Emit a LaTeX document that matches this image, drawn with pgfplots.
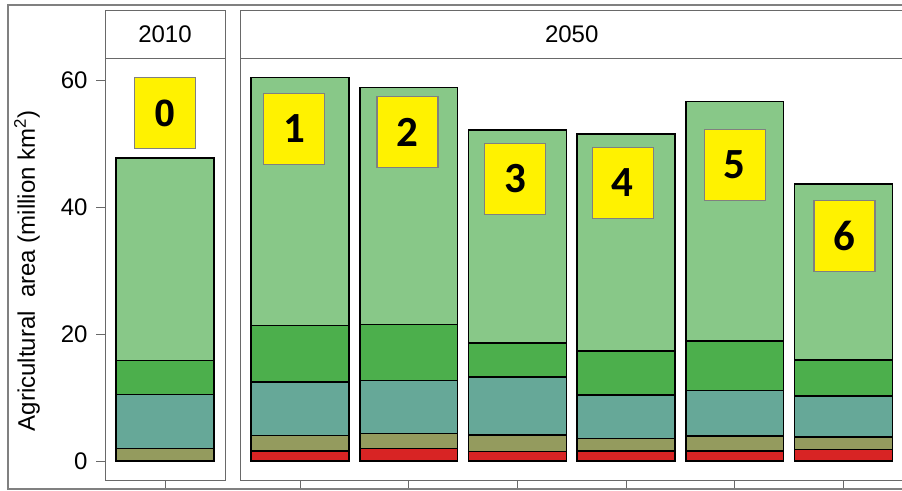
\documentclass[border=0pt]{standalone}
\usepackage{fontspec}
\setmainfont{Liberation Sans}
\newfontfamily\numfont{Carlito}
\usepackage{pgfplots}
\usepackage{pgfplotstable}
\pgfplotsset{compat=1.18}

\definecolor{cLight}{RGB}{136,200,136}
\definecolor{cGreen}{RGB}{76,175,76}
\definecolor{cTeal}{RGB}{102,168,152}
\definecolor{cOlive}{RGB}{148,155,94}
\definecolor{cRed}{RGB}{216,36,36}
\definecolor{frameGray}{RGB}{105,105,105}
\definecolor{borderGray}{RGB}{128,128,128}

% agricultural area by land-use class (million km^2)
\pgfplotstableread{
x red olive teal green light
0 0.0 2.0 8.5 5.3 31.9
}\tabA
\pgfplotstableread{
x red olive teal green light
1 1.6 2.4 8.4 8.9 39.1
2 2.0 2.3 8.4 8.8 37.3
3 1.5 2.6 9.1 5.4 33.5
4 1.6 1.9 6.9 6.9 34.2
5 1.6 2.3 7.2 7.8 37.7
6 1.8 2.0 6.4 5.7 27.7
}\tabB

\tikzset{
  numbox/.style={draw=borderGray, line width=1.5bp, fill=yellow,
    minimum width=61bp, minimum height=71bp, inner sep=0pt,
    font=\numfont\bfseries\fontsize{43bp}{43bp}\selectfont},
}
\pgfplotsset{
  panel/.style={
    scale only axis, height=422bp,
    ymin=-3, ymax=63.46,
    ybar stacked, bar width=0.9,
    axis line style={frameGray, line width=0.8bp},
    tick style={frameGray, line width=0.8bp},
    tick align=outside, major tick length=9bp,
    xtick=data, xticklabels={}, xtick pos=bottom, ytick pos=left,
    clip=false,
    /pgf/number format/assume math mode=true,
    ticklabel style={font=\fontsize{24bp}{28bp}\selectfont},
    yticklabel style={xshift=-5bp},
  },
  stack/.style={draw=black, line width=1.5bp, fill=#1},
}

\newcommand{\stackbars}[1]{%
  \addplot[stack=cRed]   table[x=x,y=red]{#1};
  \addplot[stack=cOlive] table[x=x,y=olive]{#1};
  \addplot[stack=cTeal]  table[x=x,y=teal]{#1};
  \addplot[stack=cGreen] table[x=x,y=green]{#1};
  \addplot[stack=cLight] table[x=x,y=light]{#1};
}

\begin{document}
\begin{tikzpicture}
\path[use as bounding box] (0bp,0bp) rectangle (902bp,491bp);
\clip (0bp,0bp) rectangle (902bp,491bp);

% 2010 panel
\begin{axis}[panel, name=left, at={(105bp,11bp)}, anchor=south west,
  width=120bp, xmin=-0.552, xmax=0.552, ytick={0,20,40,60},
  after end axis/.append code={
    \node[numbox, font=\bfseries\fontsize{38bp}{38bp}\selectfont] at (axis cs:0,54.8) {0};
  }]
  \stackbars{\tabA}
\end{axis}

% 2050 panel, scenario labels drawn on top of the bars
\begin{axis}[panel, name=right, at={(240bp,11bp)}, anchor=south west,
  width=663.5bp, xmin=0.448, xmax=6.552, ytick=\empty,
  after end axis/.append code={
    \node[numbox] at (axis cs:0.944,52.3) {1};
    \node[numbox] at (axis cs:1.99,51.8) {2};
    \node[numbox] at (axis cs:2.98,44.4) {3};
    \node[numbox] at (axis cs:3.97,43.8) {4};
    \node[numbox] at (axis cs:5.0,46.6) {5};
    \node[numbox] at (axis cs:6.01,35.4) {6};
  }]
  \stackbars{\tabB}
\end{axis}

% panel strips
\draw[frameGray, line width=0.8bp] (left.north west) rectangle ([yshift=48bp]left.north east);
\node[font=\fontsize{24bp}{28bp}\selectfont] at ([yshift=24bp]left.north) {2010};
\draw[frameGray, line width=0.8bp] (right.north west) rectangle ([yshift=48bp]right.north east);
\node[font=\fontsize{24bp}{28bp}\selectfont] at ([yshift=24bp]right.north) {2050};

% y label
\node[rotate=90, font=\fontsize{24bp}{28bp}\selectfont] at (27bp,220bp)
  {Agricultural\ \ area (million km\textsuperscript{2})};

% outer border
\draw[borderGray, line width=2bp] (8bp,2bp) rectangle (912bp,486bp);
\end{tikzpicture}
\end{document}
